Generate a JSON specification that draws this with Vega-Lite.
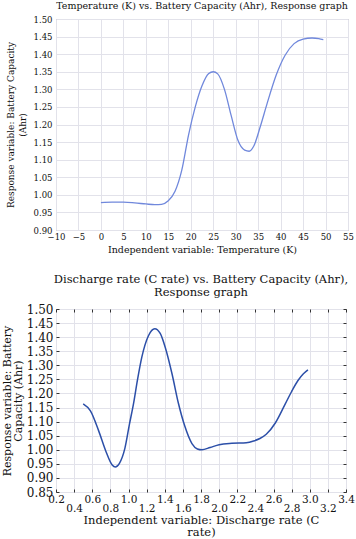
{
  "$schema": "https://vega.github.io/schema/vega-lite/v6.json",
  "padding": {"left": 0, "top": 0, "right": 0, "bottom": 0},
  "background": "white",
  "spacing": 18,
  "config": {
    "font": "DejaVu Serif",
    "view": {"stroke": null},
    "axis": {"labelColor": "#111", "titleColor": "#111", "titleFontWeight": "normal", "labelFlush": false, "labelOverlap": false, "gridColor": "#e2e2ea", "gridWidth": 1}
  },
  "vconcat": [
    {
      "width": 292,
      "height": 211,
      "view": {"stroke": "#a0a0a0", "strokeWidth": 1},
      "title": {"text": "Temperature (K) vs. Battery Capacity (Ahr), Response graph", "font": "DejaVu Serif", "fontSize": 9.5, "fontWeight": "normal", "color": "#111", "offset": 5, "anchor": "middle"},
      "data": {"values": [
        {"t": 0, "cap": 0.978}, {"t": 2.5, "cap": 0.979}, {"t": 5, "cap": 0.979}, {"t": 7.5, "cap": 0.977},
        {"t": 10, "cap": 0.974}, {"t": 12, "cap": 0.972}, {"t": 13.5, "cap": 0.973}, {"t": 15, "cap": 0.983},
        {"t": 16.5, "cap": 1.01}, {"t": 18, "cap": 1.07}, {"t": 19.5, "cap": 1.17}, {"t": 21, "cap": 1.25},
        {"t": 22.5, "cap": 1.31}, {"t": 24, "cap": 1.345}, {"t": 25, "cap": 1.35}, {"t": 26, "cap": 1.344},
        {"t": 27.5, "cap": 1.3}, {"t": 29, "cap": 1.225}, {"t": 30.5, "cap": 1.155}, {"t": 32, "cap": 1.127},
        {"t": 33, "cap": 1.124}, {"t": 34, "cap": 1.138}, {"t": 35.5, "cap": 1.195}, {"t": 37, "cap": 1.26},
        {"t": 39, "cap": 1.34}, {"t": 41, "cap": 1.397}, {"t": 43, "cap": 1.43}, {"t": 45, "cap": 1.443},
        {"t": 47, "cap": 1.446}, {"t": 48.5, "cap": 1.444}, {"t": 49.5, "cap": 1.441}
      ]},
      "mark": {"type": "line", "interpolate": "monotone", "color": "#7088dc", "strokeWidth": 1.3},
      "encoding": {
        "x": {
          "field": "t", "type": "quantitative",
          "scale": {"domain": [-10, 55], "nice": false, "zero": false},
          "axis": {
            "values": [-10, -5, 0, 5, 10, 15, 20, 25, 30, 35, 40, 45, 50, 55],
            "title": "Independent variable: Temperature (K)",
            "labelFontSize": 8.5, "titleFontSize": 9.5, "ticks": false, "domain": false,
            "labelPadding": 2, "titlePadding": 4, "grid": true
          }
        },
        "y": {
          "field": "cap", "type": "quantitative",
          "scale": {"domain": [0.9, 1.5], "nice": false, "zero": false},
          "axis": {
            "values": [0.9, 0.95, 1.0, 1.05, 1.1, 1.15, 1.2, 1.25, 1.3, 1.35, 1.4, 1.45, 1.5],
            "format": ".2f",
            "title": ["Response variable: Battery Capacity", "(Ahr)"],
            "labelFontSize": 8.5, "titleFontSize": 9, "titleLineHeight": 12, "ticks": false, "domain": false,
            "labelPadding": 4, "titlePadding": 6, "grid": true
          }
        }
      }
    },
    {
      "width": 290,
      "height": 183,
      "view": {"stroke": "#333", "strokeWidth": 1},
      "title": {"text": ["Discharge rate (C rate) vs. Battery Capacity (Ahr),", "Response graph"], "font": "DejaVu Serif", "fontSize": 11.5, "fontWeight": "normal", "color": "#111", "lineHeight": 12.5, "offset": 5, "anchor": "middle"},
      "data": {"values": [
        {"c": 0.5, "cap": 1.163}, {"c": 0.58, "cap": 1.138}, {"c": 0.67, "cap": 1.068}, {"c": 0.75, "cap": 0.995},
        {"c": 0.82, "cap": 0.946}, {"c": 0.855, "cap": 0.939}, {"c": 0.9, "cap": 0.952}, {"c": 0.96, "cap": 1.005},
        {"c": 1.01, "cap": 1.09}, {"c": 1.056, "cap": 1.165}, {"c": 1.1, "cap": 1.25}, {"c": 1.147, "cap": 1.329},
        {"c": 1.22, "cap": 1.405}, {"c": 1.29, "cap": 1.43}, {"c": 1.35, "cap": 1.413}, {"c": 1.405, "cap": 1.364},
        {"c": 1.48, "cap": 1.27}, {"c": 1.55, "cap": 1.166}, {"c": 1.62, "cap": 1.085}, {"c": 1.7, "cap": 1.022},
        {"c": 1.76, "cap": 1.003}, {"c": 1.81, "cap": 1.0}, {"c": 1.9, "cap": 1.008}, {"c": 2.0, "cap": 1.018},
        {"c": 2.14, "cap": 1.023}, {"c": 2.3, "cap": 1.025}, {"c": 2.38, "cap": 1.031}, {"c": 2.45, "cap": 1.04},
        {"c": 2.52, "cap": 1.055}, {"c": 2.62, "cap": 1.095}, {"c": 2.73, "cap": 1.163}, {"c": 2.8, "cap": 1.207},
        {"c": 2.87, "cap": 1.246}, {"c": 2.93, "cap": 1.27}, {"c": 2.98, "cap": 1.284}
      ]},
      "resolve": {"axis": {"x": "independent", "y": "independent"}},
      "layer": [
        {
          "mark": {"type": "line", "interpolate": "monotone", "color": "#2c4fa8", "strokeWidth": 1.5},
          "encoding": {
            "x": {
              "field": "c", "type": "quantitative",
              "scale": {"domain": [0.2, 3.4], "nice": false, "zero": false},
              "axis": {
                "orient": "bottom",
                "values": [0.2, 0.4, 0.6, 0.8, 1.0, 1.2, 1.4, 1.6, 1.8, 2.0, 2.2, 2.4, 2.6, 2.8, 3.0, 3.2, 3.4],
                "labelExpr": "round(datum.value*10) % 4 == 0 ? ['', format(datum.value, '.1f')] : format(datum.value, '.1f')",
                "labelLineHeight": 9,
                "title": ["Independent variable: Discharge rate (C", "rate)"],
                "titleLineHeight": 11.5,
                "labelFontSize": 10.5, "titleFontSize": 11.5, "ticks": true, "tickSize": -3, "tickColor": "#333", "domain": false,
                "labelPadding": 5, "titlePadding": 1, "grid": true
              }
            },
            "y": {
              "field": "cap", "type": "quantitative",
              "scale": {"domain": [0.85, 1.5], "nice": false, "zero": false},
              "axis": {
                "orient": "left",
                "values": [0.85, 0.9, 0.95, 1.0, 1.05, 1.1, 1.15, 1.2, 1.25, 1.3, 1.35, 1.4, 1.45, 1.5],
                "format": ".2f",
                "title": ["Response variable: Battery", "Capacity (Ahr)"],
                "labelFontSize": 12, "titleFontSize": 11, "titleLineHeight": 11, "ticks": true, "tickSize": -3, "tickColor": "#333", "domain": false,
                "labelPadding": 6, "titlePadding": 3, "grid": true
              }
            }
          }
        },
        {
          "mark": {"type": "line", "interpolate": "monotone", "strokeOpacity": 0},
          "encoding": {
            "x": {
              "field": "c", "type": "quantitative",
              "axis": {
                "orient": "top",
                "values": [0.2, 0.4, 0.6, 0.8, 1.0, 1.2, 1.4, 1.6, 1.8, 2.0, 2.2, 2.4, 2.6, 2.8, 3.0, 3.2, 3.4],
                "labels": false, "title": null, "grid": false, "domain": false,
                "ticks": true, "tickSize": -3, "tickColor": "#333"
              }
            },
            "y": {
              "field": "cap", "type": "quantitative",
              "axis": {
                "orient": "right",
                "values": [0.85, 0.9, 0.95, 1.0, 1.05, 1.1, 1.15, 1.2, 1.25, 1.3, 1.35, 1.4, 1.45, 1.5],
                "labels": false, "title": null, "grid": false, "domain": false,
                "ticks": true, "tickSize": -3, "tickColor": "#333"
              }
            }
          }
        }
      ]
    }
  ]
}
